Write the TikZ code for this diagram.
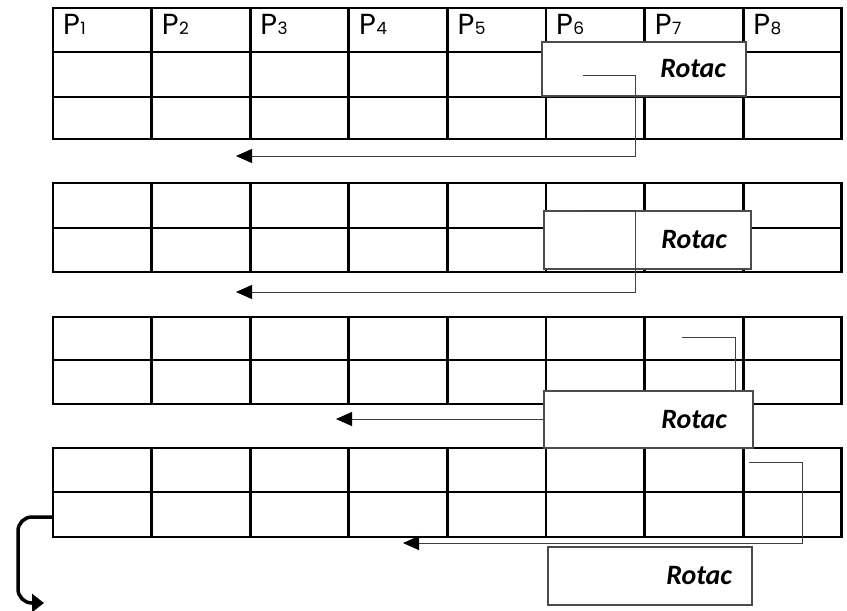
\documentclass[tikz,border=0pt]{standalone}
\usepackage{fontspec}
\newfontfamily\hdrfont{Poppins}
\newfontfamily\rotfont{Carlito}
\usetikzlibrary{arrows.meta}

\begin{document}
\begin{tikzpicture}[x=1pt,y=-1pt,
  gridline/.style={line width=2.8pt, black},
  rotbox/.style={draw=black!70, line width=1.3pt, fill=white, inner ysep=0pt,
    align=right, font=\rotfont\bfseries\itshape\fontsize{28}{28}\selectfont},
  link/.style={draw=black!75, line width=1pt,
    -{Triangle[length=16pt,width=14pt,color=black]}},
  hdr/.style={anchor=base west, inner sep=0pt,
    font=\hdrfont\fontsize{29}{29}\selectfont}]

\useasboundingbox (0,0) rectangle (847,611);
\fill[white] (0,0) rectangle (847,611);

% four tables of 8 columns
\foreach \t/\b in {8/139,183/272,317/404,448/537}{
  \draw[gridline] (53,\t) rectangle (841.8,\b);
  \foreach \i in {1,...,7}
    \draw[gridline] ({53+98.6*\i},\t) -- ({53+98.6*\i},\b);
}
\foreach \y in {52,97,228,360,492}
  \draw[gridline] (53,\y) -- (841.8,\y);

% column headers
\foreach \i in {1,...,8}
  \node[hdr] (p\i) at ({63+98.6*(\i-1)},34) {P\kern0.5pt{\fontsize{17}{17}\selectfont\i}};

% first two rotations
\node[rotbox, minimum width=204pt, minimum height=54pt, inner xsep=20pt, text width=164pt]
  (r1) at (644,69) {Rotac};
\node[rotbox, minimum width=207pt, minimum height=58pt, inner xsep=24pt, text width=159pt]
  (r2) at (647.5,240) {Rotac};

\coordinate (s1) at (583,75);  \coordinate (b1) at (635,156); \coordinate (e1) at (236,156);
\coordinate (s2) at (583,210); \coordinate (b2) at (635,292); \coordinate (e2) at (236,292);
\coordinate (s3) at (682,337); \coordinate (b3) at (735,419); \coordinate (e3) at (336,419);
\coordinate (s4) at (749,462); \coordinate (b4) at (802,543); \coordinate (e4) at (403,543);

\draw[link] (s1) -| (b1) -- (e1);
\draw[link] (s2) -| (b2) -- (e2);
\draw[link] (s3) -| (b3) -- (e3);

\node[rotbox, minimum width=209pt, minimum height=57pt, inner xsep=26pt, text width=157pt]
  (r3) at (648.5,419.5) {Rotac};

\draw[link] (s4) -| (b4) -- (e4);

\node[rotbox, minimum width=204pt, minimum height=58pt, inner xsep=20pt, text width=164pt]
  (r4) at (650,576) {Rotac};

% wrap-around arrow on the left
\coordinate (w0) at (53,517);
\coordinate (w1) at (18,517);
\coordinate (w2) at (18,603);
\coordinate (w3) at (44,603);
\draw[line width=3.5pt, rounded corners=14pt, -{Triangle[length=12pt,width=18pt]}]
  (w0) -- (w1) -- (w2) -- (w3);
\end{tikzpicture}
\end{document}
